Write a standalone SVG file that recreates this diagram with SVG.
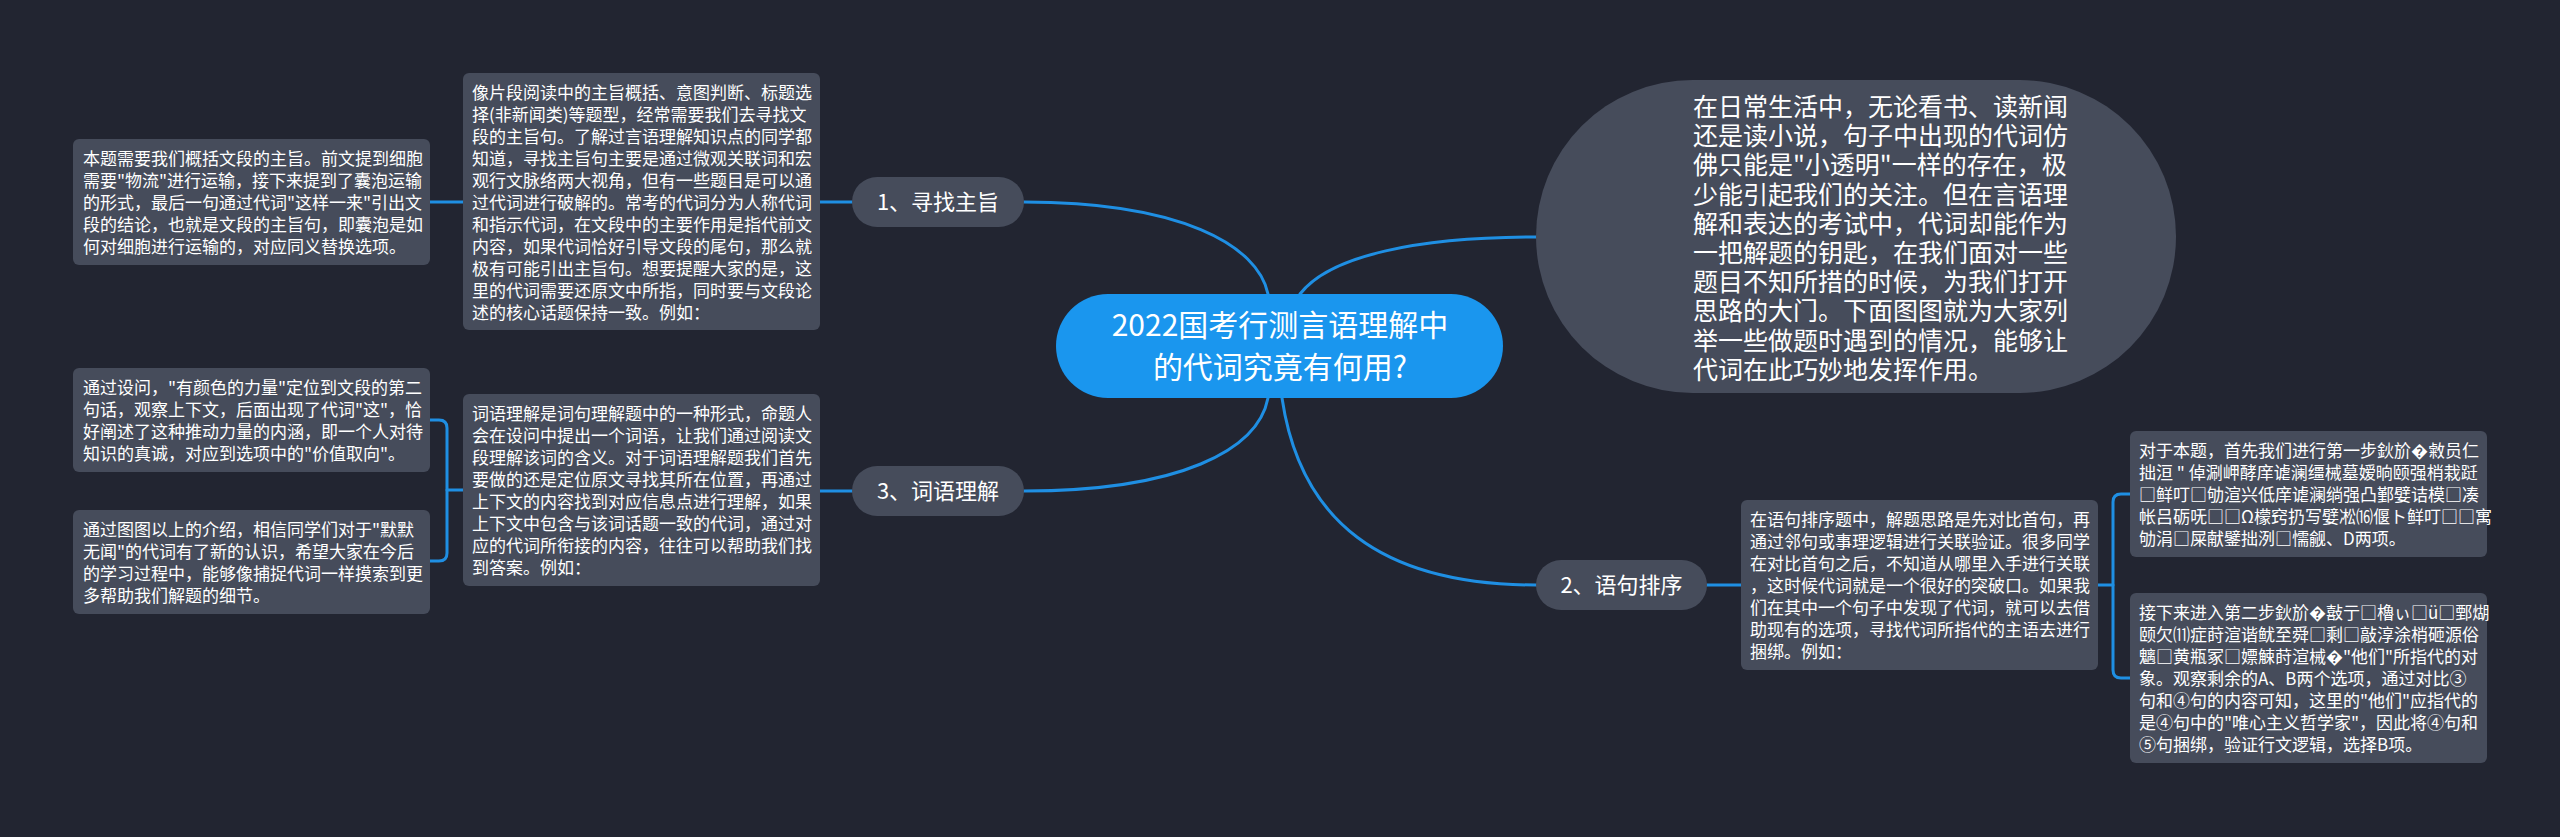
<svg xmlns="http://www.w3.org/2000/svg" width="2560" height="837" viewBox="0 0 2560 837">
<style>
.bg{fill:#222531}
.box{fill:#464c5b}
.pill{fill:#464c5b}
.root{fill:#1a96ee}
.t{font-family:"Noto Sans CJK SC","Noto Sans",sans-serif;fill:#ffffff}
.s{font-size:17px}
.p{font-size:22px}
.i{font-size:25px}
.r{font-size:30px}
.c{fill:none;stroke:#1f8fe3;stroke-width:3;stroke-linecap:round}
</style>
<rect class="bg" x="0" y="0" width="2560" height="837"/>
<g id="connectors">
<path class="c" d="M1268,294 C1258,245 1180,202 1024,202"/>
<path class="c" d="M1268,398 C1258,450 1180,491 1024,491"/>
<path class="c" d="M1300,294 C1330,255 1420,237 1536,237"/>
<path class="c" d="M1282,398 C1300,520 1380,585 1536,585"/>
<path class="c" d="M852,202 H820"/>
<path class="c" d="M463,202 H430"/>
<path class="c" d="M852,491 H820"/>
<path class="c" d="M463,490 H447"/>
<path class="c" d="M430,420 H439 Q447,420 447,428 V553 Q447,561 439,561 H430"/>
<path class="c" d="M1707,585 H1741"/>
<path class="c" d="M2098,585 H2113"/>
<path class="c" d="M2130,494 H2121 Q2113,494 2113,502 V670 Q2113,678 2121,678 H2130"/>
</g>
<g id="root">
<rect class="root" x="1056" y="294" width="447" height="104" rx="52"/>
<text class="t r" text-anchor="middle"><tspan x="1280" y="336">2022国考行测言语理解中</tspan><tspan x="1280" y="378">的代词究竟有何用?</tspan></text>
</g>
<g id="intro">
<rect class="box" x="1536" y="80" width="640" height="313" rx="156.5"/>
<text class="t i"><tspan x="1693" y="116">在日常生活中，无论看书、读新闻</tspan><tspan x="1693" y="145.2">还是读小说，句子中出现的代词仿</tspan><tspan x="1693" y="174.4">佛只能是"小透明"一样的存在，极</tspan><tspan x="1693" y="203.6">少能引起我们的关注。但在言语理</tspan><tspan x="1693" y="232.8">解和表达的考试中，代词却能作为</tspan><tspan x="1693" y="262">一把解题的钥匙，在我们面对一些</tspan><tspan x="1693" y="291.2">题目不知所措的时候，为我们打开</tspan><tspan x="1693" y="320.4">思路的大门。下面图图就为大家列</tspan><tspan x="1693" y="349.6">举一些做题时遇到的情况，能够让</tspan><tspan x="1693" y="378.8">代词在此巧妙地发挥作用。</tspan></text>
</g>
<g id="branch1">
<rect class="pill" x="852" y="177" width="172" height="50" rx="25"/>
<text class="t p" text-anchor="middle" x="938" y="210">1、寻找主旨</text>
</g>
<g id="branch1-text">
<rect class="box" x="463" y="73" width="357" height="257" rx="6"/>
<text class="t s"><tspan x="472" y="98.5">像片段阅读中的主旨概括、意图判断、标题选</tspan><tspan x="472" y="120.5">择(非新闻类)等题型，经常需要我们去寻找文</tspan><tspan x="472" y="142.5">段的主旨句。了解过言语理解知识点的同学都</tspan><tspan x="472" y="164.5">知道，寻找主旨句主要是通过微观关联词和宏</tspan><tspan x="472" y="186.5">观行文脉络两大视角，但有一些题目是可以通</tspan><tspan x="472" y="208.5">过代词进行破解的。常考的代词分为人称代词</tspan><tspan x="472" y="230.5">和指示代词，在文段中的主要作用是指代前文</tspan><tspan x="472" y="252.5">内容，如果代词恰好引导文段的尾句，那么就</tspan><tspan x="472" y="274.5">极有可能引出主旨句。想要提醒大家的是，这</tspan><tspan x="472" y="296.5">里的代词需要还原文中所指，同时要与文段论</tspan><tspan x="472" y="318.5">述的核心话题保持一致。例如：</tspan></text>
</g>
<g id="branch1-example">
<rect class="box" x="73" y="139" width="357" height="126" rx="6"/>
<text class="t s"><tspan x="83" y="164.5">本题需要我们概括文段的主旨。前文提到细胞</tspan><tspan x="83" y="186.5">需要"物流"进行运输，接下来提到了囊泡运输</tspan><tspan x="83" y="208.5">的形式，最后一句通过代词"这样一来"引出文</tspan><tspan x="83" y="230.5">段的结论，也就是文段的主旨句，即囊泡是如</tspan><tspan x="83" y="252.5">何对细胞进行运输的，对应同义替换选项。</tspan></text>
</g>
<g id="branch3">
<rect class="pill" x="852" y="466" width="172" height="50" rx="25"/>
<text class="t p" text-anchor="middle" x="938" y="499">3、词语理解</text>
</g>
<g id="branch3-text">
<rect class="box" x="463" y="394" width="357" height="192" rx="6"/>
<text class="t s"><tspan x="472" y="419.5">词语理解是词句理解题中的一种形式，命题人</tspan><tspan x="472" y="441.5">会在设问中提出一个词语，让我们通过阅读文</tspan><tspan x="472" y="463.5">段理解该词的含义。对于词语理解题我们首先</tspan><tspan x="472" y="485.5">要做的还是定位原文寻找其所在位置，再通过</tspan><tspan x="472" y="507.5">上下文的内容找到对应信息点进行理解，如果</tspan><tspan x="472" y="529.5">上下文中包含与该词话题一致的代词，通过对</tspan><tspan x="472" y="551.5">应的代词所衔接的内容，往往可以帮助我们找</tspan><tspan x="472" y="573.5">到答案。例如：</tspan></text>
</g>
<g id="branch3-example1">
<rect class="box" x="73" y="368" width="357" height="104" rx="6"/>
<text class="t s"><tspan x="83" y="393.5">通过设问，"有颜色的力量"定位到文段的第二</tspan><tspan x="83" y="415.5">句话，观察上下文，后面出现了代词"这"，恰</tspan><tspan x="83" y="437.5">好阐述了这种推动力量的内涵，即一个人对待</tspan><tspan x="83" y="459.5">知识的真诚，对应到选项中的"价值取向"。</tspan></text>
</g>
<g id="branch3-example2">
<rect class="box" x="73" y="510" width="357" height="104" rx="6"/>
<text class="t s"><tspan x="83" y="535.5">通过图图以上的介绍，相信同学们对于"默默</tspan><tspan x="83" y="557.5">无闻"的代词有了新的认识，希望大家在今后</tspan><tspan x="83" y="579.5">的学习过程中，能够像捕捉代词一样摸索到更</tspan><tspan x="83" y="601.5">多帮助我们解题的细节。</tspan></text>
</g>
<g id="branch2">
<rect class="pill" x="1536" y="560" width="171" height="50" rx="25"/>
<text class="t p" text-anchor="middle" x="1621.5" y="593">2、语句排序</text>
</g>
<g id="branch2-text">
<rect class="box" x="1741" y="500" width="357" height="170" rx="6"/>
<text class="t s"><tspan x="1750" y="525.5">在语句排序题中，解题思路是先对比首句，再</tspan><tspan x="1750" y="547.5">通过邻句或事理逻辑进行关联验证。很多同学</tspan><tspan x="1750" y="569.5">在对比首句之后，不知道从哪里入手进行关联</tspan><tspan x="1750" y="591.5">，这时候代词就是一个很好的突破口。如果我</tspan><tspan x="1750" y="613.5">们在其中一个句子中发现了代词，就可以去借</tspan><tspan x="1750" y="635.5">助现有的选项，寻找代词所指代的主语去进行</tspan><tspan x="1750" y="657.5">捆绑。例如：</tspan></text>
</g>
<g id="branch2-example1">
<rect class="box" x="2130" y="431" width="357" height="126" rx="6"/>
<text class="t s"><tspan x="2139" y="456.5">对于本题，首先我们进行第一步鈥斺�敹员仁</tspan><tspan x="2139" y="478.5">拙洹 " 倬涮岬酵庠谑澜缰械墓嫒晌颐强梢栽跹</tspan><tspan x="2139" y="500.5">□鲜叮□劬渲兴低庠谑澜绱强凸鄞嬖诘模□凑</tspan><tspan x="2139" y="522.5">帐吕砺呒□□Ω檬窍扔写嬖凇⒃偃ト鲜叮□□寓</tspan><tspan x="2139" y="544.5">劬涓□屎献鐾拙洌□懦觎、D两项。</tspan></text>
</g>
<g id="branch2-example2">
<rect class="box" x="2130" y="593" width="357" height="170" rx="6"/>
<text class="t s"><tspan x="2139" y="618.5">接下来进入第二步鈥斺�敼亍□櫓ぃ□ü□鄄煳</tspan><tspan x="2139" y="640.5">颐欠⑾症莳渲谐鱿至舜□剩□敲淳涂梢砸源俗</tspan><tspan x="2139" y="662.5">魑□黄瓶冢□嫖觫莳渲械�"他们"所指代的对</tspan><tspan x="2139" y="684.5">象。观察剩余的A、B两个选项，通过对比③</tspan><tspan x="2139" y="706.5">句和④句的内容可知，这里的"他们"应指代的</tspan><tspan x="2139" y="728.5">是④句中的"唯心主义哲学家"，因此将④句和</tspan><tspan x="2139" y="750.5">⑤句捆绑，验证行文逻辑，选择B项。</tspan></text>
</g>
</svg>
